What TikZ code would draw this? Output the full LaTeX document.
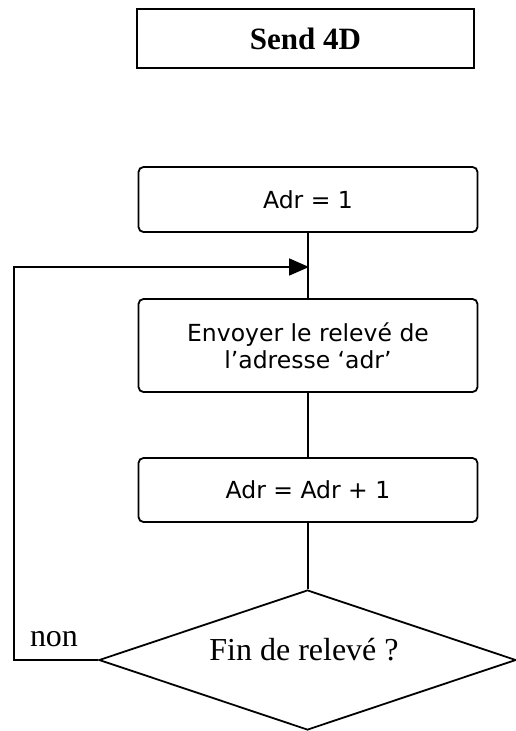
\documentclass[tikz,border=0pt]{standalone}
\usepackage{fontspec}
\setmainfont{Liberation Serif}
\newfontfamily\boxfont{DejaVu Sans}
\usetikzlibrary{shapes.geometric,arrows.meta}
\begin{document}
\begin{tikzpicture}[x=1pt,y=-1pt,
  title/.style={draw, line width=2.5pt, minimum width=337pt, minimum height=59pt,
    inner sep=0pt, font=\bfseries\fontsize{31}{31}\selectfont},
  stepbox/.style={draw, line width=1.8pt, rounded corners=5pt, minimum width=339pt,
    inner sep=0pt, align=center, font=\boxfont\fontsize{23.5}{27}\selectfont},
  test/.style={draw, diamond, line width=1.8pt, minimum width=417pt,
    minimum height=140pt, inner sep=0pt},
  link/.style={line width=1.8pt},
  lbl/.style={font=\fontsize{32}{32}\selectfont, inner sep=0pt, anchor=base}]
\useasboundingbox (0,0) rectangle (516,731);

% title
\node[title] (send) at (305.5,38.5) {Send 4D};

% process steps
\node[stepbox, minimum height=65pt] (init) at (308,199.5) {Adr = 1};
\node[stepbox, minimum height=93pt] (emit) at (308,345.5)
  {Envoyer le relevé de\\l’adresse ‘adr’};
\node[stepbox, minimum height=64pt] (incr) at (308,490) {Adr = Adr + 1};

% loop test
\node[test] (done) at (307.5,660) {};
\node[lbl] (donetxt) at (304,660) {Fin de relevé ?};
\node[lbl] (no) at (54,646) {non};

% connectors
\coordinate (loopbot) at (14,660);
\coordinate (looptop) at (14,267);
\coordinate (join) at (309,267);
\draw[link] (init.south) -- (emit.north);
\draw[link] (emit.south) -- (incr.north);
\draw[link] (incr.south) -- (incr.south |- done.north);
\draw[link, -{Triangle[length=20pt,width=17pt]}]
  (done.west) -- (loopbot) -- (looptop) -- (join);
\end{tikzpicture}
\end{document}
